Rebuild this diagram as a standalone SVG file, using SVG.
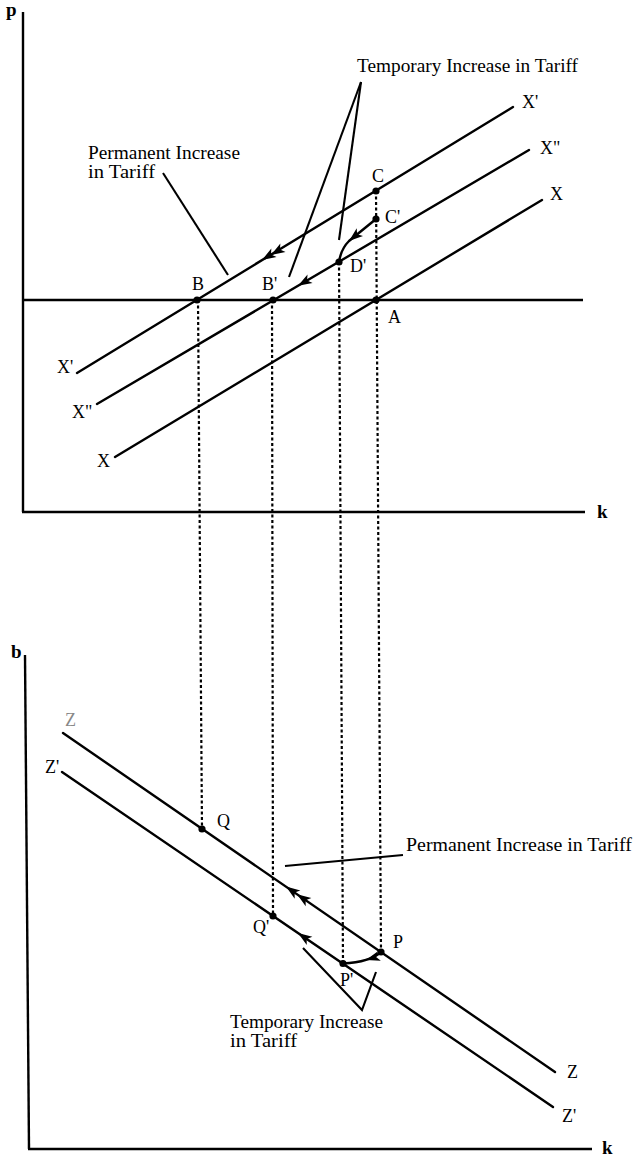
<svg xmlns="http://www.w3.org/2000/svg" width="636" height="1157" viewBox="0 0 636 1157">
<style>
  .ln{stroke:#000;stroke-width:2.4;fill:none;stroke-linecap:round}
  .ax{stroke:#000;stroke-width:2.4;fill:none}
  .dot{stroke:#000;stroke-width:2.2;fill:none;stroke-dasharray:3 2.5}
  .ld{stroke:#000;stroke-width:2.1;fill:none}
  .pt{fill:#000}
  .lb{font-family:"Liberation Serif","Times New Roman",serif;font-size:18px;fill:#000}
  .tx{font-family:"Liberation Serif","Times New Roman",serif;font-size:19px;fill:#000}
  .axl{font-family:"Liberation Serif","Times New Roman",serif;font-size:19px;font-weight:bold;fill:#000}
</style>
<defs>
  <path id="ah" d="M0,0 L-14,-5 L-10.5,0 L-14,5 Z" fill="#000"/>
</defs>
<rect width="636" height="1157" fill="#fff"/>

<g id="top-axes">
  <line class="ax" x1="23" y1="12" x2="23" y2="512"/>
  <line class="ax" x1="22" y1="512" x2="585" y2="512"/>
  <line class="ax" x1="23" y1="300" x2="583" y2="300"/>
  <text class="axl" x="6" y="16">p</text>
  <text class="axl" x="597" y="518">k</text>
</g>

<g id="curve-Xp">
  <line class="ln" x1="77" y1="373" x2="513" y2="107"/>
  <text class="lb" x="57" y="373">X'</text>
  <text class="lb" x="522" y="108">X'</text>
</g>
<g id="curve-Xpp">
  <line class="ln" x1="97" y1="404" x2="529" y2="150"/>
  <text class="lb" x="72" y="418">X"</text>
  <text class="lb" x="540" y="154">X"</text>
</g>
<g id="curve-X">
  <line class="ln" x1="115" y1="457" x2="542" y2="200"/>
  <text class="lb" x="97" y="467">X</text>
  <text class="lb" x="550" y="200">X</text>
</g>

<g id="point-B"><circle class="pt" cx="197" cy="300" r="3.6"/><text class="lb" x="198" y="290" text-anchor="middle">B</text></g>
<g id="point-Bp"><circle class="pt" cx="273" cy="300" r="3.6"/><text class="lb" x="262" y="290">B'</text></g>
<g id="point-A"><circle class="pt" cx="376" cy="300" r="3.6"/><text class="lb" x="388" y="323">A</text></g>
<g id="point-C"><circle class="pt" cx="376" cy="191" r="3.6"/><text class="lb" x="372" y="182">C</text></g>
<g id="point-Cp"><circle class="pt" cx="376" cy="219" r="3.6"/><text class="lb" x="385" y="223">C'</text></g>
<g id="point-Dp"><circle class="pt" cx="339" cy="262" r="3.6"/><text class="lb" x="350" y="272">D'</text></g>

<g id="bottom-axes">
  <line class="ax" x1="25" y1="655" x2="29" y2="1149"/>
  <line class="ax" x1="28" y1="1149" x2="592" y2="1149"/>
  <text class="axl" x="11" y="658">b</text>
  <text class="axl" x="602" y="1154">k</text>
</g>

<g id="curve-Z">
  <line class="ln" x1="63" y1="733" x2="555" y2="1072"/>
  <text class="lb" x="65" y="726" style="fill:#888">Z</text>
  <text class="lb" x="567" y="1078">Z</text>
</g>
<g id="curve-Zp">
  <line class="ln" x1="62" y1="772" x2="553" y2="1107"/>
  <text class="lb" x="45" y="773">Z'</text>
  <text class="lb" x="562" y="1122">Z'</text>
</g>

<g id="point-Q"><circle class="pt" cx="202" cy="829" r="3.6"/><text class="lb" x="217" y="827">Q</text></g>
<g id="point-Qp"><circle class="pt" cx="273" cy="916" r="3.6"/><text class="lb" x="253" y="933">Q'</text></g>
<g id="point-P"><circle class="pt" cx="381" cy="952" r="3.6"/><text class="lb" x="393" y="948">P</text></g>
<g id="point-Pp"><circle class="pt" cx="343" cy="963.5" r="3.6"/><text class="lb" x="340" y="986">P'</text></g>

<g id="label-temp-top"><text class="tx" x="357" y="72" textLength="221" lengthAdjust="spacingAndGlyphs">Temporary Increase in Tariff</text></g>
<g id="label-perm-top">
  <text class="tx" x="88" y="159" textLength="152" lengthAdjust="spacingAndGlyphs">Permanent Increase</text>
  <text class="tx" x="88" y="178" textLength="67" lengthAdjust="spacingAndGlyphs">in Tariff</text>
</g>
<g id="label-perm-bottom"><text class="tx" x="406" y="851" textLength="226" lengthAdjust="spacingAndGlyphs">Permanent Increase in Tariff</text></g>
<g id="label-temp-bottom">
  <text class="tx" x="230" y="1028" textLength="153" lengthAdjust="spacingAndGlyphs">Temporary Increase</text>
  <text class="tx" x="230" y="1047" textLength="67" lengthAdjust="spacingAndGlyphs">in Tariff</text>
</g>

<g id="connectors">
  <line class="dot" x1="198" y1="300" x2="202" y2="829"/>
  <line class="dot" x1="272" y1="300" x2="273" y2="916"/>
  <line class="dot" x1="339" y1="262" x2="343" y2="963"/>
  <line class="dot" x1="376" y1="191" x2="381" y2="952"/>

  <line class="ld" x1="163" y1="173" x2="228" y2="275"/>
  <line class="ld" x1="361" y1="82" x2="289" y2="277"/>
  <line class="ld" x1="361" y1="82" x2="339" y2="240"/>
  <line class="ld" x1="285" y1="866" x2="403" y2="855"/>
  <polyline class="ld" points="303,948 362,1010 376,972"/>

  <path class="ln" d="M376,219 L349,241 Q341,249 339,262"/>
  <path class="ln" d="M381,952 Q370,962 343,963.5"/>

  <use href="#ah" transform="translate(262,260) rotate(148.6)"/>
  <use href="#ah" transform="translate(271,255) rotate(148.6)"/>
  <use href="#ah" transform="translate(298,285.8) rotate(149.5)"/>
  <use href="#ah" transform="translate(349,241) rotate(140.8)"/>
  <use href="#ah" transform="translate(286,886.6) rotate(214.6)"/>
  <use href="#ah" transform="translate(297,894.2) rotate(214.6)"/>
  <use href="#ah" transform="translate(298,933) rotate(214.3)"/>
  <use href="#ah" transform="translate(366,960) rotate(163)"/>
</g>
</svg>
